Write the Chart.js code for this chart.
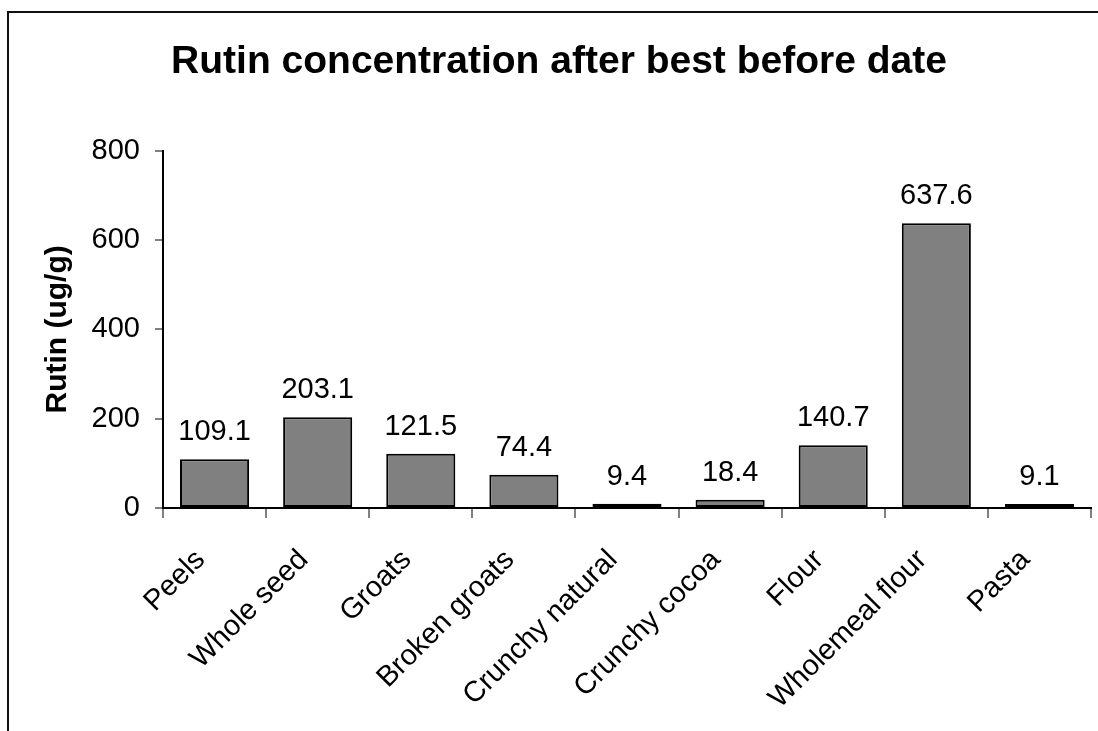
<!DOCTYPE html>
<html>
<head>
<meta charset="utf-8">
<title>Rutin concentration after best before date</title>
<script src="https://cdn.jsdelivr.net/npm/chart.js@4.4.1/dist/chart.umd.min.js"></script>
<style>
  html, body { margin: 0; padding: 0; background: #ffffff; }
  #wrap { position: relative; width: 1098px; height: 731px; }
  canvas { display: block; }
</style>
</head>
<body>
<div id="wrap"><canvas id="chart" width="1098" height="731"></canvas></div>
<script>
// Products sampled after their best-before date
const categories = ['Peels', 'Whole seed', 'Groats', 'Broken groats', 'Crunchy natural',
  'Crunchy cocoa', 'Flour', 'Wholemeal flour', 'Pasta'];
// Rutin content in ug/g
const rutinValues = [109.1, 203.1, 121.5, 74.4, 9.4, 18.4, 140.7, 637.6, 9.1];
// Value axis ticks
const yTicks = [0, 200, 400, 600, 800];

const FONT = "'Liberation Sans', Arial, Helvetica, sans-serif";

// Frame lines along the left and top edges of the page
const framePlugin = {
  id: 'frame',
  beforeDraw(chart) {
    const ctx = chart.ctx;
    ctx.save();
    ctx.fillStyle = '#ffffff';
    ctx.fillRect(0, 0, chart.width, chart.height);
    ctx.strokeStyle = '#111111';
    ctx.lineWidth = 2;
    ctx.beginPath();
    ctx.moveTo(8, chart.height);
    ctx.lineTo(8, 12);
    ctx.lineTo(chart.width, 12);
    ctx.stroke();
    ctx.restore();
  }
};

// Value labels above each bar
const valueLabels = {
  id: 'valueLabels',
  afterDatasetsDraw(chart) {
    const ctx = chart.ctx;
    const meta = chart.getDatasetMeta(0);
    const data = chart.data.datasets[0].data;
    ctx.save();
    ctx.font = '29px ' + FONT;
    ctx.fillStyle = '#000000';
    ctx.textAlign = 'center';
    ctx.textBaseline = 'alphabetic';
    meta.data.forEach((bar, i) => {
      ctx.fillText(data[i].toFixed(1), bar.x, bar.y - 19);
    });
    ctx.restore();
  }
};

new Chart(document.getElementById('chart'), {
  type: 'bar',
  data: {
    labels: categories,
    datasets: [{
      data: rutinValues,
      backgroundColor: '#808080',
      borderColor: '#000000',
      borderWidth: 2,
      borderSkipped: false,
      barPercentage: 0.67,
      categoryPercentage: 1.0
    }]
  },
  options: {
    responsive: false,
    animation: false,
    devicePixelRatio: 1,
    layout: { padding: { left: 27, right: 7, top: 0, bottom: 0 } },
    plugins: {
      legend: { display: false },
      tooltip: { enabled: false },
      title: {
        display: true,
        text: 'Rutin concentration after best before date',
        color: '#000000',
        font: { family: FONT, size: 39, weight: 'bold', lineHeight: 1.2 },
        padding: { top: 39, bottom: 65 }
      }
    },
    scales: {
      x: {
        grid: {
          display: true,
          offset: true,
          drawOnChartArea: false,
          drawTicks: true,
          tickLength: 10,
          color: '#808080',
          lineWidth: 2
        },
        border: { display: true, color: '#000000', width: 2 },
        ticks: {
          autoSkip: false,
          minRotation: 45,
          maxRotation: 45,
          padding: 25,
          labelOffset: -14,
          color: '#000000',
          font: { family: FONT, size: 29 }
        },
        afterFit(scale) { scale.height = 731 - 508; }
      },
      y: {
        min: 0,
        max: 800,
        afterBuildTicks(scale) { scale.ticks = yTicks.map(v => ({ value: v })); },
        grid: {
          display: true,
          drawOnChartArea: false,
          drawTicks: true,
          tickLength: 8,
          color: '#808080',
          lineWidth: 2
        },
        border: { display: true, color: '#000000', width: 2 },
        ticks: {
          padding: 15,
          color: '#000000',
          font: { family: FONT, size: 29 }
        },
        title: {
          display: true,
          text: 'Rutin (ug/g)',
          color: '#000000',
          font: { family: FONT, size: 30, weight: 'bold', lineHeight: 1.2 },
          padding: { top: 13, bottom: 0 }
        },
        afterFit(scale) { scale.width = 163 - 27; }
      }
    }
  },
  plugins: [framePlugin, valueLabels]
});
</script>
</body>
</html>
